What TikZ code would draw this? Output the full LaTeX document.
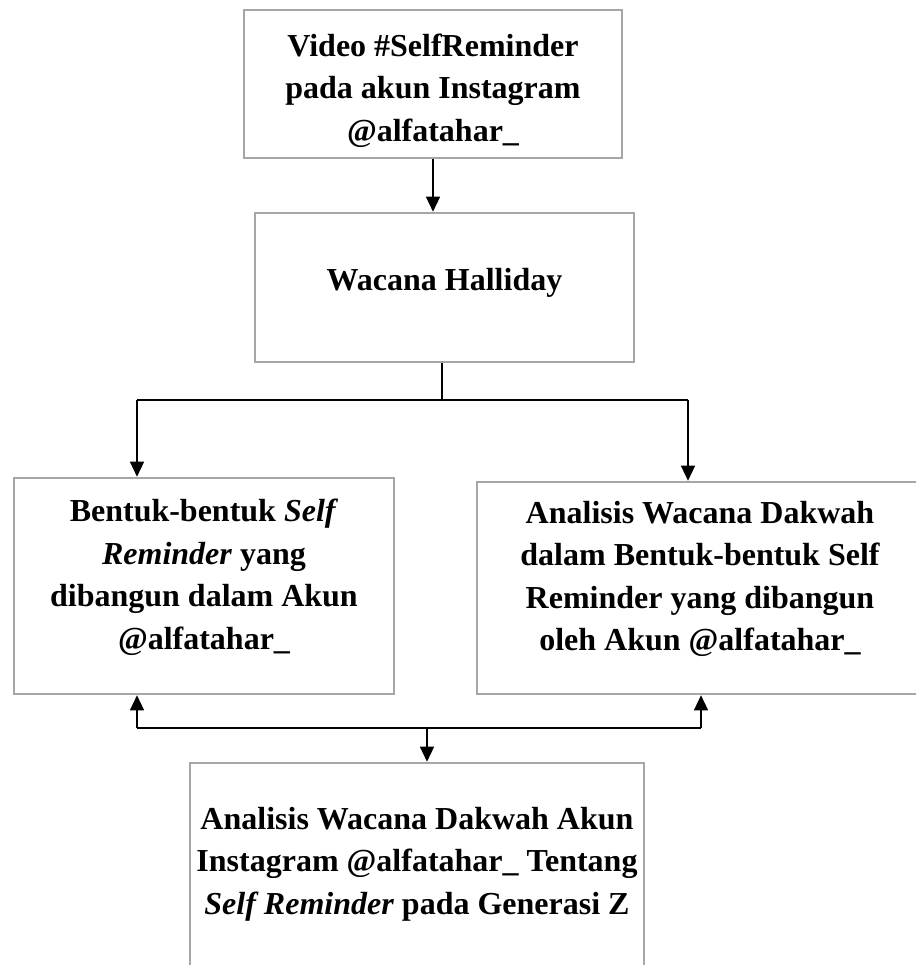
\documentclass[tikz,border=0pt]{standalone}
\usepackage{fontspec}
\setmainfont{Liberation Serif}
\usetikzlibrary{arrows.meta}

\definecolor{boxgray}{RGB}{166,166,166}

\begin{document}
\begin{tikzpicture}[x=1pt, y=-1pt, line width=1.4pt,
    box/.style={draw=boxgray, line width=2.6pt, inner sep=0pt, align=center,
        font=\bfseries\fontsize{32}{42.5}\selectfont},
    flow/.style={-{Triangle[length=15pt, width=14pt]}}]

    \useasboundingbox (0,0) rectangle (916,965);
    \clip (0,0) rectangle (916,965);

    \node[box, minimum width=378, minimum height=148] (video) at (433,84)
        {\rule{0pt}{36pt}Video \#SelfReminder\\pada akun Instagram\\@alfatahar\_};
    \node[box, minimum width=379, minimum height=149] (wacana) at (444.5,287.5)
        {Wacana Halliday\rule[-16pt]{0pt}{0pt}};
    \node[box, minimum width=380, minimum height=216] (bentuk) at (204,586)
        {Bentuk-bentuk \textit{Self}\\\textit{Reminder} yang\\dibangun dalam Akun\\@alfatahar\_\rule[-24pt]{0pt}{0pt}};
    \node[box, minimum width=446, minimum height=212] (analisis) at (700,588)
        {Analisis Wacana Dakwah\\dalam Bentuk-bentuk Self\\Reminder yang dibangun\\oleh Akun @alfatahar\_\rule[-24pt]{0pt}{0pt}};
    \node[box, minimum width=454, minimum height=227] (hasil) at (417,876.5)
        {Analisis Wacana Dakwah Akun\\Instagram @alfatahar\_ Tentang\\\textit{Self Reminder} pada Generasi Z\rule[-32pt]{0pt}{0pt}};

    % cabang dari wacana
    \coordinate (split) at (442,400);
    \coordinate (toleft) at (137,400);
    \coordinate (toright) at (688,400);
    % gabungan ke hasil
    \coordinate (fromleft) at (137,728);
    \coordinate (fromright) at (701,728);
    \coordinate (join) at (427,728);

    \draw[line width=2pt] (wacana.south -| split) -- (split);
    \draw (toleft) -- (toright);
    \draw[line width=2pt] (fromleft) -- (fromright);

    \path[flow]
        (video.south) edge (video.south |- wacana.north)
        (toleft) edge (toleft |- bentuk.north)
        (toright) edge (toright |- analisis.north)
        (fromleft) edge (fromleft |- bentuk.south)
        (fromright) edge (fromright |- analisis.south)
        (join) edge (join |- hasil.north)
        ;
\end{tikzpicture}
\end{document}
